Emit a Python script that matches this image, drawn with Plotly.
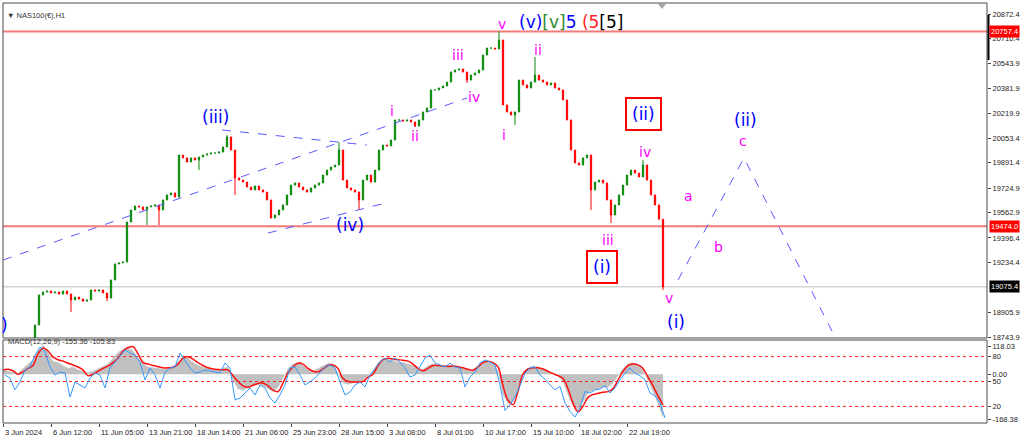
import plotly.graph_objects as go

# ---------------- page geometry (pixels) ----------------
W, H = 1024, 441
ML, MR, MT, MB = 3, 37, 3, 18
PW, PH = W - ML - MR, H - MT - MB


def py(p):
    return (H - MB - p) / PH


def pxx(p):
    return (p - ML) / PW


# ---------------- data ----------------
# x axis unit: one "slot" (about 5 H1 bars); candles start at slot 7
candle_start = 7
first_open = 18600
closes = [
    18691, 18823, 19021, 19040, 19047, 19034, 19040, 19027, 19047, 19027,
    18988, 19007, 18994, 18980, 18988, 19054, 19047, 19054, 19034, 19001,
    19120, 19225, 19232, 19238, 19502, 19581, 19607, 19601, 19581, 19601,
    19607, 19614, 19581, 19647, 19680, 19693, 19666, 19943, 19924, 19897,
    19924, 19910, 19930, 19943, 19950, 19956, 19956, 19963, 19996, 20062,
    19976, 19792, 19778, 19765, 19732, 19713, 19739, 19713, 19699, 19647,
    19528, 19548, 19581, 19614, 19680, 19745, 19759, 19732, 19713, 19699,
    19726, 19745, 19759, 19811, 19844, 19864, 19877, 19976, 19778, 19726,
    19713, 19699, 19647, 19778, 19811, 19765, 19844, 19976, 20009, 20003,
    20042, 20174, 20174, 20167, 20174, 20161, 20134, 20174, 20227, 20253,
    20372, 20372, 20385, 20398, 20424, 20490, 20503, 20510, 20490, 20437,
    20470, 20484, 20503, 20602, 20648, 20648, 20642, 20701, 20273, 20227,
    20207, 20227, 20437, 20405, 20385, 20424, 20470, 20437, 20424, 20405,
    20418, 20385, 20372, 20306, 20174, 19976, 19891, 19877, 19924, 19943,
    19713, 19765, 19778, 19759, 19647, 19548, 19614, 19680, 19745, 19811,
    19844, 19824, 19798, 19877, 19778, 19680, 19614, 19520, 19075.4,
]
# wick extremes (slot, price)
wick_slot = [17, 26, 36, 39, 49, 56, 58, 84, 89, 103, 116, 124, 128, 133, 147, 152, 160, 165]
wick_price = [18909, 18980, 19482, 19482, 19844, 20075, 19680, 20029, 19581, 20128,
              20418, 20757, 20141, 20589, 19581, 19495, 19910, 19054]

price_ticks = [20872.4, 20710.4, 20543.9, 20381.9, 20219.9, 20053.4, 19891.4,
               19724.9, 19562.9, 19396.4, 19234.4, 18905.9, 18743.9]
time_slots = [0, 12, 24, 36, 48, 60, 72, 84, 96, 108, 120, 132, 144, 156]
time_labels = ["3 Jun 2024", "6 Jun 12:00", "11 Jun 05:00", "13 Jun 21:00",
               "18 Jun 14:00", "21 Jun 06:00", "25 Jun 23:00", "28 Jun 15:00",
               "3 Jul 08:00", "8 Jul 01:00", "10 Jul 17:00", "15 Jul 10:00",
               "18 Jul 02:00", "22 Jul 19:00"]
res_levels = [20757.4, 19474.0]
bid_price = 19075.4

# indicator panel, sampled every 1.25 slots
macd_hist = [
    14, 10, 4, 2, 20, 35, 50, 80, 100, 75,
    45, 40, 30, 20, 25, 15, 10, 5, 10, 18,
    25, 35, 55, 75, 85, 92, 80, 55, 35, 25,
    22, 20, 18, 20, 25, 40, 65, 55, 40, 30,
    25, 20, 15, 15, 20, 25, -20, -50, -55, -45,
    -40, -35, -40, -50, -60, -45, -10, 20, 35, 40,
    30, 15, 10, 20, 30, 38, 35, 5, -30, -35,
    -30, -28, -20, -5, 10, 40, 55, 50, 45, 42,
    40, 35, 30, 20, 15, 30, 35, 30, 28, 30,
    30, 25, 20, 15, 15, 30, 45, 45, 35, 10,
    -70, -100, -95, -50, 5, 20, 28, 25, 15, 10,
    5, -5, -25, -70, -110, -125, -95, -65, -55, -50,
    -45, -45, -30, -5, 20, 35, 40, 30, 15, -20,
    -60, -100, -150,
]
macd_signal = [
    14, 17, 12, 0, 8, 20, 30, 70, 90, 80,
    60, 50, 45, 38, 32, 25, 15, -5, 0, 10,
    20, 28, 40, 55, 80, 92, 95, 70, 40, 35,
    30, 26, 22, 22, 24, 35, 55, 60, 52, 40,
    30, 22, 18, 16, 15, 15, -5, -25, -40, -45,
    -38, -32, -30, -40, -55, -60, -30, 5, 25, 38,
    35, 20, 10, 8, 18, 30, 32, 20, -15, -25,
    -27, -27, -25, -10, 0, 30, 50, 55, 52, 50,
    48, 45, 35, 20, 12, 20, 30, 30, 28, 27,
    28, 26, 22, 17, 14, 25, 40, 45, 40, 25,
    -40, -90, -105, -60, 0, 18, 22, 22, 18, 10,
    2, -5, -15, -50, -100, -130, -110, -80, -70, -66,
    -62, -60, -50, -20, 10, 30, 35, 32, 20, -10,
    -40, -75, -106,
]
osc_line = [
    57.8, 54.2, 40, 49.4, 63.9, 67.5, 81.9, 91.6, 85.5, 67.5,
    57.8, 61.4, 60.2, 31.3, 49.4, 45.8, 42.2, 54.2, 60.2, 57.8,
    42.2, 66.3, 73.5, 81.9, 88.0, 84.3, 81.9, 73.5, 51.8, 66.3,
    57.8, 42.2, 61.4, 66.3, 67.5, 84.3, 75.9, 66.3, 60.2, 61.4,
    63.9, 62.7, 61.4, 60.2, 72.3, 66, 28, 30.1, 36.1, 42.2,
    33.7, 45.8, 42.2, 30.1, 24.1, 33.7, 45.8, 66.3, 67.5, 57.8,
    45.8, 49.4, 54.2, 61.4, 67.5, 69.9, 66.3, 49.4, 33.7, 37.3,
    45.8, 49.4, 43.4, 57.8, 66.3, 73.5, 78.3, 73.5, 78.3, 73.5,
    66.3, 55.4, 57.8, 67.5, 78.3, 81.9, 72.3, 69.9, 67.5, 72.3,
    67.5, 66.3, 43.4, 55.4, 61.4, 72.3, 75.9, 73.5, 69.9, 45.8,
    15, 22, 31.3, 45, 60, 66.3, 67.5, 57.8, 53, 45.8,
    40, 44, 24, 14, 7.2, 18, 38, 36.1, 40, 41,
    45, 36.1, 42.2, 52, 60, 66.3, 60, 57, 52, 36.1,
    33, 24, 6,
]
osc_levels = [80, 50, 20]
macd_max, macd_min = 118.03, -168.38

# wave-count trend lines (slot, price)
trend_lines = [
    ([0, 116], [19251, 20319]),
    ([54.75, 91], [20108, 20009]),
    ([66.25, 96.5], [19429, 19633]),
    ([168.75, 185.25, 207.5], [19119, 19923, 18770]),
]

minor_text = ["i", "ii", "iii", "iv", "v", "i", "ii", "iii", "iv", "v", "a", "b", "c"]
minor_slot = [97.25, 103, 113.75, 117.75, 124.75, 125.25, 133.75, 151.25, 160.5, 166.5, 171.25, 178.75, 185]
minor_price = [20233, 20068, 20602, 20325, 20806, 20075, 20635, 19383, 19963, 19001, 19673, 19337, 20035]

major_text = ["(iii)", "(iv)", "(i)", "(ii)"]
major_slot = [53, 86.75, 168.25, 185.5]
major_price = [20194, 19482, 18843, 20174]

boxed_text = ["(ii)", "(i)"]
boxed_slot = [160, 149.75]
boxed_price = [20213, 19205]

# ---------------- build candles ----------------
xs = [candle_start + i for i in range(len(closes))]
opens = [first_open] + closes[:-1]
highs = [max(o, c) for o, c in zip(opens, closes)]
lows = [min(o, c) for o, c in zip(opens, closes)]
for s, p in zip(wick_slot, wick_price):
    i = s - candle_start
    highs[i] = max(highs[i], p)
    lows[i] = min(lows[i], p)

GREEN = "#0a8a0a"
RED = "#ff0000"
BLUE = "#0000ff"
MAG = "#ff00ff"
LABF = "DejaVu Sans"
AXF = "Liberation Sans"

fig = go.Figure()

fig.add_trace(go.Candlestick(
    x=xs, open=opens, high=highs, low=lows, close=closes,
    increasing=dict(line=dict(color=GREEN, width=1), fillcolor=GREEN),
    decreasing=dict(line=dict(color=RED, width=1), fillcolor=RED),
    whiskerwidth=0, hoverinfo="skip", showlegend=False, xaxis="x", yaxis="y",
))

for tx, ty in trend_lines:
    fig.add_trace(go.Scatter(x=tx, y=ty, mode="lines", xaxis="x", yaxis="y",
                             line=dict(color="#5a5aff", width=1, dash="dash"),
                             hoverinfo="skip", showlegend=False))

# indicator
mx = [1.25 * i for i in range(len(macd_hist))]
ox = [0.5 + 1.25 * i for i in range(len(osc_line))]
fig.add_trace(go.Scatter(x=mx, y=macd_hist, mode="lines", fill="tozeroy",
                         fillcolor="#c0c0c0", line=dict(color="#c0c0c0", width=0.5),
                         xaxis="x", yaxis="y2", hoverinfo="skip", showlegend=False))
for lv in osc_levels:
    fig.add_trace(go.Scatter(x=[0, 246], y=[lv, lv], mode="lines",
                             line=dict(color="#ff2020", width=1, dash="dot"),
                             xaxis="x", yaxis="y3", hoverinfo="skip", showlegend=False))
fig.add_trace(go.Scatter(x=ox, y=osc_line, mode="lines",
                         line=dict(color="#3399ff", width=1),
                         xaxis="x", yaxis="y3", hoverinfo="skip", showlegend=False))
fig.add_trace(go.Scatter(x=mx, y=macd_signal, mode="lines", line_shape="spline",
                         line=dict(color="#ff1010", width=1.5),
                         xaxis="x", yaxis="y2", hoverinfo="skip", showlegend=False))

# ---------------- shapes ----------------
main_bot = py(338)
sub_top = py(340)
shapes = []
for lv in res_levels:
    shapes.append(dict(type="line", xref="paper", yref="y", x0=0, x1=1, y0=lv, y1=lv,
                       line=dict(color="#f27a7a", width=2), layer="below"))
shapes.append(dict(type="line", xref="paper", yref="y", x0=0, x1=1, y0=bid_price, y1=bid_price,
                   line=dict(color="#d4d4d4", width=1.5), layer="below"))
shapes.append(dict(type="rect", xref="paper", yref="paper", x0=0, x1=1, y0=main_bot, y1=1,
                   line=dict(color="#4a4a4a", width=1)))
shapes.append(dict(type="rect", xref="paper", yref="paper", x0=0, x1=1, y0=0, y1=sub_top,
                   line=dict(color="#4a4a4a", width=1)))
shapes.append(dict(type="line", xref="paper", yref="paper", x0=pxx(988.5), x1=pxx(988.5),
                   y0=py(15), y1=py(60), line=dict(color="#000000", width=2)))
tx0, tx1, ty0, ty1 = pxx(658), pxx(666), py(4), py(9)
shapes.append(dict(type="path", xref="paper", yref="paper",
                   path=f"M {tx0} {ty0} L {tx1} {ty0} L {(tx0 + tx1) / 2} {ty1} Z",
                   fillcolor="#a8a8a8", line=dict(width=0)))

# ---------------- annotations ----------------
ann = []
for t, s, p in zip(minor_text, minor_slot, minor_price):
    ann.append(dict(x=s, y=p, xref="x", yref="y", text=t, showarrow=False,
                    font=dict(family=LABF, size=14, color=MAG)))
for t, s, p in zip(major_text, major_slot, major_price):
    ann.append(dict(x=s, y=p, xref="x", yref="y", text=t, showarrow=False,
                    font=dict(family=LABF, size=17, color=BLUE)))
for t, s, p in zip(boxed_text, boxed_slot, boxed_price):
    ann.append(dict(x=s, y=p, xref="x", yref="y", text=t, showarrow=False,
                    font=dict(family=LABF, size=17, color=BLUE),
                    bordercolor="#ff0000", borderwidth=2, borderpad=5))
ann.append(dict(x=128.5, y=20819, xref="x", yref="y", xanchor="left", showarrow=False,
                text=("<span style='color:#0000ff'>(v)</span>"
                      "<span style='color:#2e8b2e'>[v]</span>"
                      "<span style='color:#0000ff'>5</span> "
                      "<span style='color:#ff2020'>(5</span>"
                      "<span style='color:#000000'>[5]</span>"),
                font=dict(family=LABF, size=17)))
ann.append(dict(x=0.3, y=18823, xref="x", yref="y", text=")", showarrow=False,
                font=dict(family=LABF, size=17, color=BLUE)))
# time labels, left aligned at the tick like the terminal
for s, t in zip(time_slots, time_labels):
    ann.append(dict(x=s, y=0, xref="x", yref="paper", xanchor="left", yanchor="top",
                    yshift=-3, text=t, showarrow=False,
                    font=dict(family=AXF, size=7.5, color="#222222")))
# price boxes on the axis
for lv in res_levels:
    ann.append(dict(x=1, y=lv, xref="paper", yref="y", xanchor="left", xshift=2,
                    text=f"{lv:.1f}", showarrow=False, bgcolor="#ff0000", borderpad=1,
                    font=dict(family=AXF, size=7.5, color="#ffffff")))
ann.append(dict(x=1, y=bid_price, xref="paper", yref="y", xanchor="left", xshift=2,
                text=f"{bid_price:.1f}", showarrow=False, bgcolor="#000000", borderpad=1,
                font=dict(family=AXF, size=7.5, color="#ffffff")))
ann.append(dict(x=pxx(5), y=py(9), xref="paper", yref="paper", xanchor="left",
                text="▼ NAS100(€),H1", showarrow=False,
                font=dict(family=AXF, size=7.5, color="#333333")))
ann.append(dict(x=pxx(6), y=py(348), xref="paper", yref="paper", xanchor="left",
                text="MACD(12,26,9) -155.36 -105.83", showarrow=False,
                font=dict(family=AXF, size=7.5, color="#333333")))

axfont = dict(family=AXF, size=7.5, color="#222222")
m_per_px = (macd_max - macd_min) / 83.0
fig.update_layout(
    width=W, height=H, margin=dict(l=ML, r=MR, t=MT, b=MB),
    paper_bgcolor="#ffffff", plot_bgcolor="#ffffff", hovermode=False,
    showlegend=False, shapes=shapes, annotations=ann, boxgap=0.55,
    xaxis=dict(domain=[0, 1], range=[0, 246], anchor="y2", showgrid=False, zeroline=False,
               tickvals=time_slots, ticktext=[""] * len(time_slots), ticks="outside",
               ticklen=3, tickcolor="#444444", rangeslider=dict(visible=False),
               showline=False, fixedrange=True),
    yaxis=dict(domain=[main_bot, 1], range=[18737.3, 20944.9], side="right", anchor="x",
               showgrid=False, zeroline=False, tickvals=price_ticks,
               ticktext=[f"{v:.1f}" for v in price_ticks], ticks="outside", ticklen=3,
               tickcolor="#444444", tickfont=axfont, showline=False, automargin=False),
    yaxis2=dict(domain=[0, sub_top], range=[macd_min, macd_max], side="right", anchor="x",
                showgrid=False, zeroline=False,
                tickvals=[macd_max - 6 * m_per_px, 0, macd_min + 4 * m_per_px],
                ticktext=[f"{macd_max:.2f}", "0.00", f"{macd_min:.2f}"],
                ticks="outside", ticklen=3, tickcolor="#444444", tickfont=axfont,
                automargin=False),
    yaxis3=dict(overlaying="y2", range=[0, 100], side="right", anchor="x",
                showgrid=False, zeroline=False, tickvals=osc_levels,
                ticktext=[str(v) for v in osc_levels], ticks="outside", ticklen=3,
                tickcolor="#444444", tickfont=axfont, automargin=False),
)

fig.write_html("out.html", config={"displayModeBar": False},
               post_script="document.body.style.margin='0';document.body.style.padding='0';")
